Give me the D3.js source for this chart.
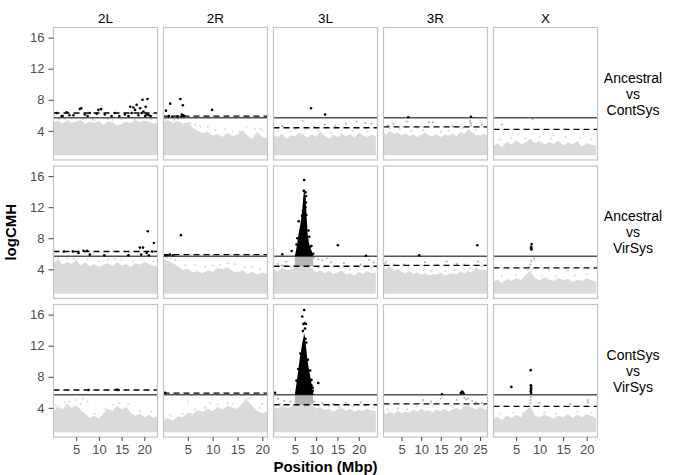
<!DOCTYPE html>
<html>
<head>
<meta charset="utf-8">
<script src="https://cdn.jsdelivr.net/npm/d3@7"></script>
<style>
body { margin: 0; background: #fff; font-family: "Liberation Sans", Arial, sans-serif; }
</style>
</head>
<body>
<div id="chart"></div>
<script>
// facets
var chroms = ["2L", "2R", "3L", "3R", "X"];
var comparisons = [["Ancestral", "vs", "ContSys"], ["Ancestral", "vs", "VirSys"], ["ContSys", "vs", "VirSys"]];

// axis ranges (Mbp) and ticks
var xRanges = [[0, 22.9], [0.1, 21.05], [0, 24.4], [0.4, 26.9], [0.2, 22.3]];
var xTicks = [[5, 10, 15, 20], [5, 10, 15, 20], [5, 10, 15, 20], [5, 10, 15, 20, 25], [5, 10, 15, 20]];
var yRange = [0.25, 17.3];
var yTicks = [4, 8, 12, 16];

// thresholds
var solidCut = 5.68;
var dashedCut = [6.3, 5.9, 4.4, 4.5, 4.2];
var grayFloor = 0.85;

// upper edge of the dense grey cloud, one value per Mbp (0, 1, 2, ...)
var cloudRow1 = [
  [5.1, 5.3, 4.9, 5.4, 5.0, 5.2, 5.4, 4.9, 5.2, 5.0, 5.3, 4.8, 5.2, 5.1, 4.7, 4.9, 5.2, 5.0, 5.4, 5.1, 5.3, 5.2, 4.9, 5.0],
  [5.2, 5.4, 5.0, 5.3, 4.9, 5.1, 4.4, 4.0, 3.7, 3.9, 3.4, 3.6, 3.2, 3.8, 3.3, 3.5, 4.1, 3.4, 3.0, 3.9, 3.2, 3.0],
  [3.5, 3.2, 3.6, 3.0, 3.4, 3.3, 3.8, 3.5, 3.1, 3.6, 3.2, 3.9, 3.4, 3.0, 3.5, 3.2, 3.7, 3.3, 3.6, 3.1, 3.8, 3.4, 3.2, 3.5, 3.3],
  [3.9, 3.5, 4.0, 3.6, 3.8, 3.4, 3.7, 3.3, 3.6, 3.2, 3.5, 3.8, 3.4, 3.3, 3.6, 3.2, 3.5, 3.4, 3.7, 3.3, 3.9, 3.6, 4.2, 3.8, 3.5, 3.4, 3.6, 3.4],
  [2.0, 2.4, 1.9, 2.6, 2.2, 2.8, 2.3, 2.5, 3.0, 2.4, 2.7, 2.2, 2.6, 2.3, 2.8, 2.1, 2.5, 2.3, 2.7, 2.0, 2.4, 2.2, 2.1]
];
var cloudRow2 = [
  [4.8, 5.3, 4.6, 5.0, 4.7, 5.2, 4.5, 4.9, 4.4, 4.7, 4.3, 4.6, 4.8, 4.4, 4.9, 4.5, 4.7, 4.3, 4.8, 4.6, 5.0, 4.7, 4.5, 4.4],
  [5.3, 5.1, 4.8, 4.4, 3.9, 4.1, 3.6, 3.8, 3.5, 3.9, 3.7, 4.2, 4.0, 4.3, 3.8, 3.6, 3.9, 3.4, 3.7, 3.3, 3.6, 3.4],
  [4.1, 3.7, 4.2, 3.9, 4.0, 4.3, 4.4, 4.4, 4.3, 4.2, 3.6, 3.9, 3.5, 3.8, 3.4, 3.6, 3.9, 3.3, 3.5, 3.2, 3.7, 3.4, 3.8, 3.5, 3.6],
  [4.3, 4.0, 4.4, 3.9, 4.1, 3.7, 3.5, 3.8, 3.4, 3.6, 3.3, 3.5, 3.2, 3.4, 3.3, 3.6, 3.2, 3.4, 3.5, 3.3, 3.7, 3.5, 3.8, 3.6, 4.3, 3.9, 4.0, 3.8],
  [2.4, 2.7, 2.2, 2.8, 2.5, 2.9, 2.6, 3.3, 3.8, 2.9, 2.6, 3.0, 2.7, 2.5, 2.9, 2.6, 2.8, 2.4, 2.7, 2.5, 2.9, 2.6, 2.4]
];
var cloudRow3 = [
  [3.6, 4.2, 3.8, 4.6, 4.0, 4.4, 3.7, 3.2, 2.7, 3.0, 2.6, 3.3, 3.9, 3.6, 4.3, 3.8, 4.1, 3.4, 3.0, 3.3, 2.8, 3.1, 2.7, 2.9],
  [2.4, 2.7, 2.3, 2.9, 2.8, 3.4, 3.2, 3.7, 3.5, 3.9, 3.6, 4.1, 3.8, 4.3, 4.0, 3.9, 4.6, 5.0, 4.2, 3.6, 3.3, 3.5],
  [4.2, 3.9, 4.3, 4.0, 4.1, 4.4, 4.4, 4.4, 4.4, 4.3, 3.9, 4.1, 3.7, 3.9, 3.5, 3.8, 4.0, 3.6, 3.9, 3.5, 3.8, 3.6, 3.9, 3.7, 3.6],
  [3.4, 3.1, 3.5, 3.2, 3.6, 3.3, 3.5, 3.4, 3.8, 3.5, 3.9, 3.6, 3.7, 3.4, 3.8, 3.6, 3.9, 3.5, 3.8, 4.0, 3.7, 4.2, 4.4, 4.0, 3.8, 4.1, 3.9, 3.7],
  [2.5, 2.9, 2.4, 3.0, 2.7, 3.1, 2.8, 3.6, 4.2, 3.0, 2.8, 3.1, 2.9, 2.6, 3.0, 2.8, 3.2, 2.7, 3.1, 2.8, 3.2, 3.0, 2.7]
];

// scattered SNPs above the cloud [position, logCMH]
var snpRow1 = [
  [[0.7, 6.3], [1.8, 5.9], [2.0, 5.9], [2.9, 6.4], [3.5, 6.0], [4.4, 6.0], [5.8, 6.8], [6.1, 6.9], [6.9, 6.1], [7.5, 5.9], [8.0, 6.3], [9.5, 6.2], [9.9, 6.7], [10.5, 6.8], [11.3, 6.1], [12.8, 5.9], [13.5, 6.3], [14.5, 5.9], [15.7, 6.1], [16.5, 5.9], [16.9, 7.1], [17.2, 6.3], [17.6, 7.0], [17.95, 6.7], [18.3, 7.35], [18.7, 6.0], [19.1, 6.9], [19.4, 6.3], [19.6, 8.0], [19.8, 6.5], [20.2, 5.9], [20.3, 7.1], [20.5, 6.1], [20.7, 8.1], [21.0, 6.0], [21.4, 5.9],
   [1.2, 5.5], [2.5, 5.5], [4.0, 5.6], [6.5, 5.5], [8.7, 5.5], [9.0, 5.4], [11.5, 5.6], [12.0, 5.5], [13.0, 5.4], [15.0, 5.5], [16.0, 5.6], [18.0, 5.5], [19.0, 5.6], [21.5, 5.5]],
  [[0.6, 6.6], [1.45, 7.5], [3.5, 8.1], [4.0, 7.3], [3.8, 6.1], [3.9, 5.95], [4.1, 6.0], [4.2, 5.9], [3.7, 5.85], [1.2, 5.9], [1.9, 5.85], [2.9, 5.85], [9.9, 6.7],
   [0.5, 5.5], [2.2, 5.4], [3.0, 5.5], [5.5, 5.0], [6.5, 4.8], [7.5, 4.6], [9.0, 4.5], [10.5, 4.1], [12.5, 4.2], [14.0, 4.0], [15.5, 3.9], [16.8, 4.55], [18.5, 4.3], [19.5, 4.3], [20.0, 4.1]],
  [[8.8, 6.9], [12.1, 6.1], [2.0, 4.6], [6.8, 5.3], [9.5, 4.5], [12.0, 4.8], [14.5, 4.6], [17.0, 4.9], [19.5, 5.2], [21.5, 5.0], [23.0, 4.9], [5.0, 4.2],
   [1.0, 4.0], [4.0, 3.9], [7.5, 4.1], [10.5, 4.0], [13.5, 3.8], [16.0, 4.1], [18.5, 4.0], [22.0, 3.9]],
  [[6.7, 5.75], [22.7, 5.8], [1.5, 4.7], [3.0, 4.9], [6.3, 5.2], [9.0, 4.4], [12.0, 5.1], [13.0, 5.1], [18.0, 4.6], [22.5, 5.3], [22.6, 5.0], [22.7, 4.7], [25.5, 4.8],
   [2.0, 4.3], [4.5, 4.2], [7.5, 4.0], [10.5, 4.1], [15.0, 3.9], [17.0, 4.0], [20.5, 4.3], [24.0, 4.1]],
  [[2.0, 4.8], [8.5, 5.5], [5.5, 3.6], [13.0, 3.4], [17.0, 3.7], [21.5, 3.6],
   [1.5, 2.9], [4.0, 3.1], [7.0, 3.0], [10.0, 3.2], [12.5, 3.0], [15.5, 3.2], [18.5, 3.1], [21.0, 2.9]]
];
var snpRow2 = [
  [[20.75, 8.9], [22.1, 7.4], [19.0, 6.8], [19.7, 6.8], [2.3, 6.3], [4.25, 6.3], [6.6, 6.4], [7.4, 6.4], [5.5, 6.1], [8.0, 5.9], [11.2, 5.8], [16.5, 5.8], [19.3, 5.9], [20.5, 6.1], [21.7, 6.3], [21.0, 5.8], [9.9, 5.6], [13.5, 5.4], [3.0, 5.5],
   [1.0, 5.5], [4.5, 5.4], [7.5, 5.3], [10.0, 5.0], [12.0, 5.2], [15.0, 5.2], [17.5, 5.0], [19.5, 5.3], [22.0, 5.0]],
  [[3.6, 8.4], [0.4, 5.8], [0.9, 5.85], [1.4, 5.9], [2.0, 5.8], [1.5, 5.4], [6.5, 4.6], [10.0, 4.5], [13.0, 4.8], [14.5, 4.7], [18.0, 4.3],
   [0.8, 5.5], [2.5, 5.2], [4.5, 4.5], [8.5, 4.3], [11.5, 4.6], [16.5, 4.3], [19.5, 4.0]],
  [[2.07, 5.93], [4.25, 6.36], [5.9, 10.2], [15.1, 7.1], [21.7, 5.75], [8.6, 6.9], [9.3, 6.0], [9.5, 5.5], [10.5, 5.3], [11.5, 5.2], [12.5, 5.4], [13.5, 4.9], [16.5, 4.8], [20.5, 4.6], [22.5, 5.2], [23.5, 4.9], [1.0, 4.7], [3.0, 5.0],
   [7.2, 15.5], [7.1, 14.1], [7.5, 13.9], [7.6, 13.4], [7.3, 13.0], [7.6, 12.6], [7.5, 12.0], [6.9, 11.5], [7.7, 11.0], [6.7, 10.9], [8.2, 9.0], [8.4, 8.2], [5.6, 8.0], [8.9, 7.0], [5.4, 7.2],
   [2.0, 4.5], [4.0, 4.3], [10.5, 4.2], [12.0, 4.3], [15.5, 4.2], [18.0, 4.0], [21.5, 4.2], [23.0, 4.1]],
  [[24.3, 7.1], [9.5, 5.8], [1.0, 4.9], [5.5, 4.6], [9.0, 4.5], [11.0, 4.9], [14.0, 4.6], [16.5, 5.0], [19.0, 4.7], [21.0, 4.6], [24.5, 5.0],
   [0.5, 4.7], [3.0, 4.6], [7.0, 4.1], [12.5, 3.8], [16.0, 3.8], [18.5, 3.9], [22.5, 4.2], [25.5, 4.4]],
  [[8.3, 7.25], [8.2, 6.9], [8.2, 6.7], [8.25, 6.55], [8.2, 6.8], [8.0, 4.6], [8.2, 5.1], [7.8, 4.3], [8.8, 5.4], [12.0, 3.9], [16.0, 3.8],
   [2.0, 3.1], [5.0, 3.3], [7.5, 3.9], [10.5, 3.2], [13.5, 3.1], [17.5, 3.2], [20.0, 3.4]]
];
var snpRow3 = [
  [[7.7, 6.3], [13.9, 6.35], [14.3, 6.3], [5.0, 5.0], [6.5, 5.2], [7.5, 4.8], [14.5, 4.6], [2.5, 4.7],
   [0.5, 4.3], [3.5, 4.8], [6.0, 4.5], [9.0, 3.2], [11.5, 3.8], [13.0, 4.4], [16.5, 4.5], [19.0, 3.6], [21.5, 3.5]],
  [[0.4, 5.95], [5.0, 4.8], [9.5, 4.6], [13.0, 4.6], [17.0, 5.2], [17.4, 5.3], [20.0, 4.5],
   [1.5, 3.0], [4.0, 3.2], [6.5, 3.8], [8.5, 4.0], [11.0, 4.4], [14.0, 4.5], [16.5, 5.0], [19.5, 4.0]],
  [[10.5, 7.2], [0.35, 5.95], [8.9, 6.9], [9.2, 6.2], [1.0, 5.2], [2.5, 4.9], [4.0, 4.8], [9.5, 4.8], [11.5, 4.6], [14.0, 4.5], [17.0, 4.6], [20.5, 4.7],
   [7.2, 16.6], [6.75, 15.75], [7.0, 14.8], [7.6, 14.8], [7.3, 14.9], [7.4, 14.2], [6.9, 13.9], [7.5, 12.9], [7.7, 12.4], [6.3, 11.0], [8.1, 10.2], [5.8, 9.0], [8.6, 8.8], [8.9, 7.6], [5.4, 7.5], [9.2, 6.6],
   [1.5, 4.5], [3.5, 4.4], [10.5, 4.3], [13.0, 4.2], [15.5, 4.1], [18.5, 4.2], [21.5, 4.3], [23.5, 4.0]],
  [[20.1, 5.9], [20.4, 6.1], [20.6, 6.0], [20.8, 5.85], [15.3, 5.75], [10.5, 5.0], [12.5, 4.8], [15.0, 5.2], [19.0, 5.0], [21.0, 5.3], [21.5, 5.1], [22.0, 5.2], [23.0, 4.9], [24.0, 4.7], [25.5, 4.6],
   [1.5, 3.8], [4.0, 3.9], [6.5, 3.8], [9.0, 4.2], [13.0, 4.2], [17.5, 4.3], [23.5, 4.5], [26.0, 4.3]],
  [[4.0, 6.7], [8.1, 8.85], [8.15, 6.9], [8.2, 6.7], [8.15, 6.5], [8.2, 6.3], [8.1, 6.1], [8.2, 5.9], [8.0, 4.6], [8.0, 5.0], [8.1, 5.4], [7.9, 4.2], [20.2, 5.0], [20.3, 4.7], [16.5, 4.5], [10.0, 4.6],
   [1.5, 3.2], [4.5, 3.4], [6.5, 3.3], [11.0, 3.4], [13.5, 3.2], [18.0, 3.5], [21.0, 3.4]]
];

// dense 3L peak outline (rows 2 and 3), [position, logCMH]
var peakRow2 = [[5.0, 5.68], [5.3, 6.5], [5.6, 7.5], [5.9, 8.6], [6.2, 9.5], [6.5, 10.5], [6.8, 12.0], [7.0, 13.3], [7.2, 14.4], [7.4, 13.5], [7.6, 12.5], [7.8, 10.5], [8.0, 8.6], [8.3, 7.5], [8.6, 6.8], [9.0, 6.3], [9.3, 5.68]];
var peakRow3 = [[5.0, 5.68], [5.3, 6.8], [5.6, 8.0], [5.9, 9.2], [6.2, 10.5], [6.5, 11.5], [6.8, 12.5], [7.0, 13.0], [7.2, 13.6], [7.4, 13.0], [7.6, 12.0], [7.9, 10.5], [8.2, 9.3], [8.5, 8.4], [8.8, 7.5], [9.1, 6.5], [9.4, 5.68]];
var peakBand = [5.0, 9.3];

var clouds = [cloudRow1, cloudRow2, cloudRow3];
var snps = [snpRow1, snpRow2, snpRow3];
var peaks = [null, peakRow2, peakRow3];

var width = 679, height = 475;
var left0 = 53.5, top0 = 27.5, pw = 104, ph = 132.5, gapX = 6, gapY = 6;

var svg = d3.select("#chart").append("svg")
    .attr("width", width)
    .attr("height", height);

var y = d3.scaleLinear().domain(yRange).range([ph, 0]);

var lightGray = "#dadada", midGray = "#b5b5b5";

function colorFor(v, c) {
    if (v > solidCut) return "#000";
    if (v > dashedCut[c]) return midGray;
    return lightGray;
}

comparisons.forEach(function(comp, r) {
    chroms.forEach(function(chr, c) {
        var x = d3.scaleLinear().domain(xRanges[c]).range([0, pw]);
        var px = left0 + c * (pw + gapX), py = top0 + r * (ph + gapY);
        var g = svg.append("g").attr("transform", "translate(" + px + "," + py + ")");
        var clipId = "clip" + r + c;
        g.append("clipPath").attr("id", clipId)
            .append("rect").attr("width", pw).attr("height", ph);
        var inner = g.append("g").attr("clip-path", "url(#" + clipId + ")");

        // grey cloud
        var cloud = clouds[r][c].map(function(v, i) {
            return [Math.min(Math.max(i, xRanges[c][0]), xRanges[c][1]), v];
        });
        inner.append("path")
            .datum(cloud)
            .attr("fill", lightGray)
            .attr("d", d3.area()
                .x(function(d) { return x(d[0]); })
                .y0(y(grayFloor))
                .y1(function(d) { return y(d[1]); }));

        // medium grey band under 3L peak
        if (peaks[r] && c === 2) {
            inner.append("path")
                .datum(peakBand)
                .attr("fill", midGray)
                .attr("d", d3.area()
                    .x(function(d) { return x(d); })
                    .y0(y(dashedCut[c]))
                    .y1(y(solidCut)));
        }

        var pts = snps[r][c];
        inner.selectAll("circle.low")
            .data(pts.filter(function(d) { return d[1] <= solidCut; }))
            .enter().append("circle")
            .attr("cx", function(d) { return x(d[0]); })
            .attr("cy", function(d) { return y(d[1]); })
            .attr("r", 1.1)
            .attr("fill", function(d) { return colorFor(d[1], c); });

        // threshold lines
        inner.append("line")
            .attr("x1", 0).attr("x2", pw)
            .attr("y1", y(solidCut)).attr("y2", y(solidCut))
            .attr("stroke", "#555").attr("stroke-width", 1.5);
        inner.append("line")
            .attr("x1", 0).attr("x2", pw)
            .attr("y1", y(dashedCut[c])).attr("y2", y(dashedCut[c]))
            .attr("stroke", "#000").attr("stroke-width", 1.3)
            .attr("stroke-dasharray", "6,4");

        // 3L peak
        if (peaks[r] && c === 2) {
            inner.append("path")
                .datum(peaks[r])
                .attr("fill", "#000")
                .attr("d", d3.area()
                    .x(function(d) { return x(d[0]); })
                    .y0(y(solidCut))
                    .y1(function(d) { return y(d[1]); }));
        }

        inner.selectAll("circle.high")
            .data(pts.filter(function(d) { return d[1] > solidCut; }))
            .enter().append("circle")
            .attr("cx", function(d) { return x(d[0]); })
            .attr("cy", function(d) { return y(d[1]); })
            .attr("r", 1.3)
            .attr("fill", "#000");

        // panel border
        g.append("rect")
            .attr("width", pw).attr("height", ph)
            .attr("fill", "none")
            .attr("stroke", "#c4c4c4")
            .attr("stroke-width", 1.2);

        // axes
        if (c === 0) {
            var ya = g.append("g")
                .call(d3.axisLeft(y).tickValues(yTicks).tickSize(5).tickPadding(4));
            ya.select(".domain").remove();
            ya.selectAll("line").attr("stroke", "#444");
            ya.selectAll("text").attr("fill", "#4d4d4d")
                .style("font-size", "13px").style("font-family", "Liberation Sans, Arial, sans-serif");
        }
        if (r === comparisons.length - 1) {
            var xa = g.append("g")
                .attr("transform", "translate(0," + ph + ")")
                .call(d3.axisBottom(x).tickValues(xTicks[c]).tickSize(4).tickPadding(4));
            xa.select(".domain").remove();
            xa.selectAll("line").attr("stroke", "#444");
            xa.selectAll("text").attr("fill", "#4d4d4d")
                .style("font-size", "13px").style("font-family", "Liberation Sans, Arial, sans-serif");
        }

        // column strip labels
        if (r === 0) {
            svg.append("text")
                .attr("x", px + pw / 2).attr("y", 23)
                .attr("text-anchor", "middle")
                .style("font-size", "13.5px")
                .text(chr);
        }
    });

    // row strip labels
    var cy = top0 + r * (ph + gapY) + ph / 2;
    var rt = svg.append("text")
        .attr("text-anchor", "middle")
        .style("font-size", "14px");
    comp.forEach(function(line, k) {
        rt.append("tspan")
            .attr("x", 633)
            .attr("y", cy + 5 + (k - 1) * 16)
            .text(line);
    });
});

// axis titles
svg.append("text")
    .attr("x", left0 + (5 * pw + 4 * gapX) / 2)
    .attr("y", 472)
    .attr("text-anchor", "middle")
    .style("font-size", "15px")
    .style("font-weight", "bold")
    .text("Position (Mbp)");

svg.append("text")
    .attr("transform", "translate(16," + (top0 + (3 * ph + 2 * gapY) / 2) + ") rotate(-90)")
    .attr("text-anchor", "middle")
    .style("font-size", "15px")
    .style("font-weight", "bold")
    .text("logCMH");
</script>
</body>
</html>
